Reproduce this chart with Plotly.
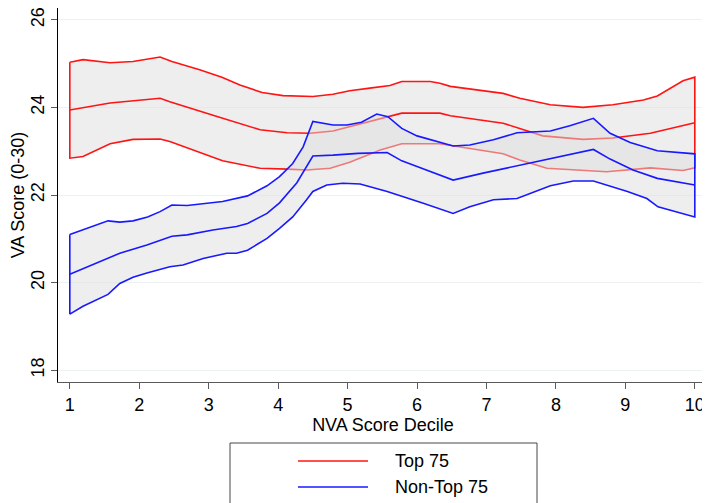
import plotly.graph_objects as go

# ---------------- data ----------------
# Top 75 : upper CI, mean, lower CI
top_up_x = [1.0, 1.19, 1.58, 1.91, 2.30, 2.47, 2.87, 3.19, 3.45, 3.77, 4.07, 4.50, 4.79, 5.03, 5.32, 5.61, 5.78, 6.19, 6.33, 6.48, 7.24, 7.48, 7.92, 8.39, 8.82, 9.26, 9.46, 9.83, 10.0]
top_up_y = [25.03, 25.09, 25.02, 25.05, 25.15, 25.05, 24.86, 24.69, 24.51, 24.34, 24.27, 24.25, 24.30, 24.38, 24.44, 24.50, 24.59, 24.59, 24.55, 24.48, 24.32, 24.21, 24.06, 24.00, 24.06, 24.17, 24.26, 24.61, 24.69]

top_mean_x = [1.0, 1.58, 2.30, 2.44, 3.12, 3.74, 4.13, 4.46, 4.79, 5.03, 5.32, 5.78, 6.33, 6.48, 7.24, 7.48, 7.81, 8.39, 8.82, 9.36, 10.0]
top_mean_y = [23.94, 24.10, 24.21, 24.13, 23.79, 23.49, 23.42, 23.41, 23.46, 23.56, 23.68, 23.87, 23.87, 23.81, 23.64, 23.52, 23.35, 23.27, 23.30, 23.41, 23.65]

top_lo_x = [1.0, 1.19, 1.58, 1.91, 2.30, 2.44, 2.83, 3.20, 3.74, 4.13, 4.41, 4.75, 5.03, 5.28, 5.47, 5.78, 6.33, 7.24, 7.48, 7.87, 8.39, 8.73, 9.36, 9.83, 10.0]
top_lo_y = [22.84, 22.88, 23.17, 23.27, 23.28, 23.22, 22.99, 22.78, 22.61, 22.59, 22.57, 22.61, 22.75, 22.91, 23.03, 23.17, 23.17, 22.94, 22.80, 22.61, 22.56, 22.53, 22.62, 22.56, 22.62]

# Non-Top 75 : upper CI, mean, lower CI
non_up_x = [1.0, 1.55, 1.72, 1.91, 2.12, 2.30, 2.47, 2.69, 3.20, 3.56, 3.84, 4.02, 4.21, 4.36, 4.50, 4.79, 4.99, 5.20, 5.42, 5.58, 5.78, 6.00, 6.52, 6.76, 7.10, 7.44, 7.92, 8.20, 8.54, 8.78, 9.07, 9.46, 10.0]
non_up_y = [21.10, 21.41, 21.38, 21.41, 21.50, 21.62, 21.77, 21.76, 21.85, 21.98, 22.21, 22.42, 22.72, 23.10, 23.68, 23.60, 23.60, 23.66, 23.85, 23.79, 23.52, 23.35, 23.12, 23.14, 23.26, 23.42, 23.46, 23.58, 23.75, 23.41, 23.20, 23.01, 22.94]

non_mean_x = [1.0, 1.19, 1.72, 2.11, 2.47, 2.69, 3.06, 3.40, 3.56, 3.84, 4.02, 4.27, 4.50, 4.79, 5.15, 5.57, 5.78, 6.00, 6.52, 6.95, 7.44, 7.92, 8.54, 8.78, 9.11, 9.46, 10.0]
non_mean_y = [20.19, 20.32, 20.67, 20.86, 21.06, 21.09, 21.20, 21.28, 21.35, 21.58, 21.82, 22.28, 22.89, 22.91, 22.95, 22.97, 22.78, 22.65, 22.34, 22.50, 22.67, 22.84, 23.04, 22.82, 22.57, 22.38, 22.23]

non_lo_x = [1.0, 1.19, 1.55, 1.72, 1.91, 2.11, 2.44, 2.63, 2.92, 3.26, 3.40, 3.56, 3.84, 4.02, 4.21, 4.41, 4.50, 4.70, 4.93, 5.18, 5.57, 6.09, 6.52, 6.76, 7.10, 7.44, 7.92, 8.25, 8.54, 9.03, 9.31, 9.47, 10.0]
non_lo_y = [19.28, 19.46, 19.73, 19.98, 20.12, 20.22, 20.36, 20.40, 20.55, 20.67, 20.67, 20.74, 21.01, 21.24, 21.50, 21.89, 22.08, 22.23, 22.27, 22.25, 22.08, 21.81, 21.58, 21.73, 21.89, 21.92, 22.21, 22.32, 22.32, 22.08, 21.92, 21.73, 21.50]

series_names = ["Top 75", "Non-Top 75"]
x_ticks = [1, 2, 3, 4, 5, 6, 7, 8, 9, 10]
y_ticks = [18, 20, 22, 24, 26]

# ---------------- styling ----------------
RED = "rgb(255,20,20)"
BLUE = "rgb(25,25,255)"
BAND = "rgba(222,222,222,0.5)"
FONT = "Liberation Sans, Arial, sans-serif"
FS = 18

fig = go.Figure()


def add_series(up_x, up_y, m_x, m_y, lo_x, lo_y, color, name):
    # CI band as a closed outlined polygon
    fig.add_trace(go.Scatter(
        x=list(up_x) + list(lo_x)[::-1] + [up_x[0]],
        y=list(up_y) + list(lo_y)[::-1] + [up_y[0]],
        mode="lines", fill="toself", fillcolor=BAND,
        line=dict(color=color, width=1.6),
        showlegend=False, hoverinfo="skip", name=name + " CI"))
    fig.add_trace(go.Scatter(
        x=m_x, y=m_y, mode="lines",
        line=dict(color=color, width=1.6),
        showlegend=False, name=name))


add_series(top_up_x, top_up_y, top_mean_x, top_mean_y, top_lo_x, top_lo_y, RED, series_names[0])
add_series(non_up_x, non_up_y, non_mean_x, non_mean_y, non_lo_x, non_lo_y, BLUE, series_names[1])

# page has an 8px body margin: figure starts at page (8, 8)
OFF = 8
W, H = 702, 495
L, R, T, B = 50, 2, 0, 121       # plot area page x 58..708, y 8..382
pw, ph = W - L - R, H - T - B


def px(page_x):
    return (page_x - OFF - L) / pw


def py(page_y):
    return (H - B - (page_y - OFF)) / ph


# custom legend box
shapes = [dict(type="rect", xref="paper", yref="paper",
               x0=px(230), x1=px(537), y0=py(443), y1=py(520),
               line=dict(color="rgb(70,70,70)", width=1), fillcolor="white")]
annotations = []
for i, (nm, col) in enumerate(zip(series_names, [RED, BLUE])):
    yy = 461 + i * 26
    shapes.append(dict(type="line", xref="paper", yref="paper",
                       x0=px(298), x1=px(368), y0=py(yy), y1=py(yy),
                       line=dict(color=col, width=1.6)))
    annotations.append(dict(xref="paper", yref="paper", x=px(393), y=py(yy),
                            text=nm, showarrow=False, xanchor="left", yanchor="middle",
                            font=dict(family=FONT, size=FS, color="black")))

fig.update_layout(
    width=W, height=H,
    margin=dict(l=L, r=R, t=T, b=B, autoexpand=False),
    paper_bgcolor="white", plot_bgcolor="white",
    font=dict(family=FONT, size=FS, color="black"),
    showlegend=False,
    shapes=shapes, annotations=annotations,
    xaxis=dict(range=[0.83, 10.19], tickvals=x_ticks, ticktext=[str(v) for v in x_ticks],
               automargin=False, ticklabeloverflow="allow",
               showgrid=False, zeroline=False, showline=True,
               linecolor="rgb(90,90,90)", linewidth=1.2,
               ticks="outside", ticklen=6, tickcolor="rgb(90,90,90)",
               tickfont=dict(size=FS),
               title=dict(text="NVA Score Decile", font=dict(size=FS), standoff=0)),
    yaxis=dict(range=[17.73, 26.27], tickvals=y_ticks, ticktext=[str(v) for v in y_ticks],
               tickangle=-90, automargin=False, ticklabeloverflow="allow",
               showgrid=True, gridcolor="rgb(236,242,242)", gridwidth=1,
               zeroline=False, showline=True, linecolor="black", linewidth=1.2,
               ticks="outside", ticklen=6, tickcolor="rgb(90,90,90)",
               tickfont=dict(size=FS),
               title=dict(text="VA Score (0-30)", font=dict(size=FS), standoff=0)),
)

fig.write_html("out.html")
